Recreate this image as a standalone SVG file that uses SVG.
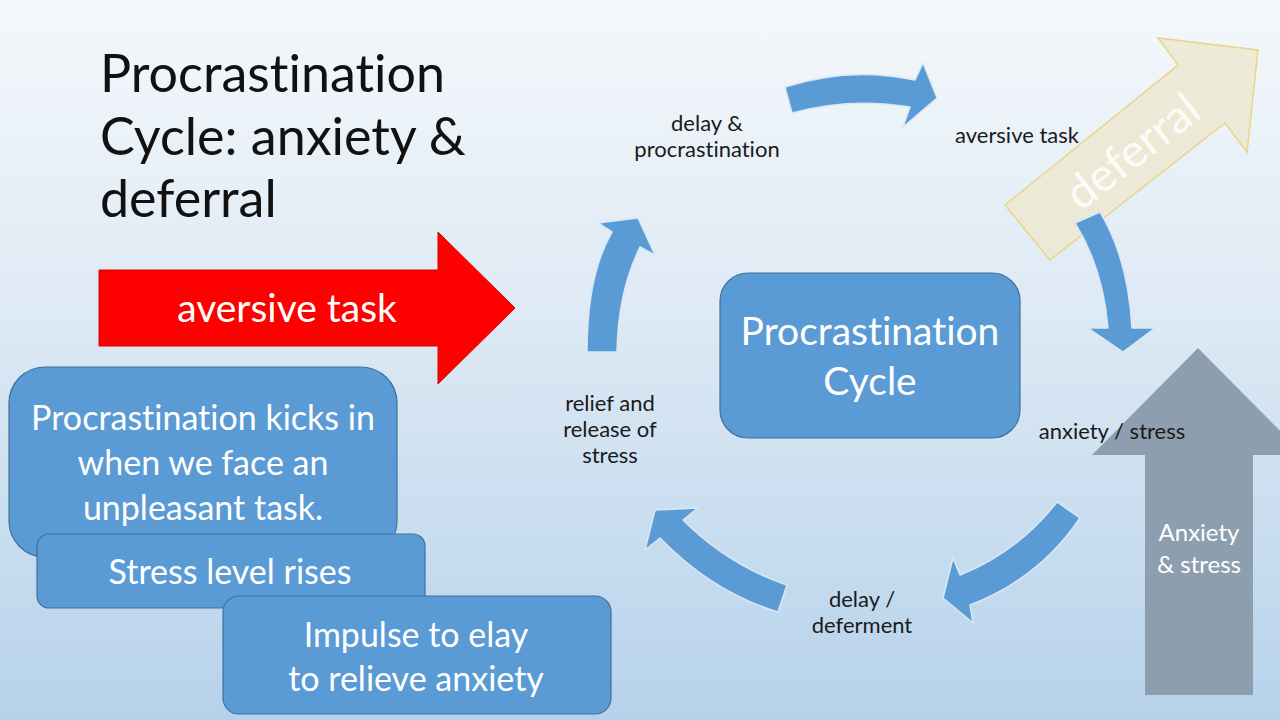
<svg xmlns="http://www.w3.org/2000/svg" width="1280" height="720" viewBox="0 0 1280 720">
  <defs>
    <linearGradient id="bg" x1="0" y1="0" x2="0" y2="1">
      <stop offset="0" stop-color="#f4f8fb"/>
      <stop offset="0.45" stop-color="#dde9f4"/>
      <stop offset="1" stop-color="#b6d2eb"/>
    </linearGradient>
    <style>
      text { font-variant-ligatures: none; }
      .title { font-family: Lato, "Liberation Sans", sans-serif; font-size: 52px; fill: #111; }
      .lbl { font-family: Lato, "Liberation Sans", sans-serif; font-size: 22px; fill: #1a1a1a; text-anchor: middle; }
      .wt { font-family: Lato, "Liberation Sans", sans-serif; fill: #ffffff; text-anchor: middle; }
      .box { fill: #5b9bd5; stroke: #41719c; stroke-width: 1.2; }
      .cyc { fill: #5b9bd5; stroke: #d8e8f5; stroke-width: 1.5; stroke-linejoin: round; }
    </style>
  </defs>

  <rect x="0" y="0" width="1280" height="720" fill="url(#bg)"/>

  <g id="title">
    <text class="title" x="100" y="92">Procrastination</text>
    <text class="title" x="100" y="155">Cycle: anxiety &amp;</text>
    <text class="title" x="100" y="217">deferral</text>
  </g>

  <g id="deferral-arrow">
    <polygon points="1005,205 1178,65 1158,38 1258,50 1247,152 1225,123 1050,260" fill="#ece9d3" fill-opacity="0.9" stroke="#e8d586" stroke-width="1.5"/>
    <text class="wt" x="1133" y="167" font-size="46" fill-opacity="0.85" transform="rotate(-38 1133 152)">deferral</text>
  </g>

  <g id="anxiety-arrow">
    <polygon points="1145,695 1145,455 1092,455 1198,348 1304,455 1253,455 1253,695" fill="#8d9fae"/>
    <text class="wt" x="1199" y="541" font-size="24">Anxiety</text>
    <text class="wt" x="1199" y="573" font-size="24">&amp; stress</text>
  </g>

  <g id="aversive-arrow">
    <polygon points="99,270 438,270 438,232 515,308 438,384 438,346 99,346" fill="#ff0000" stroke="#e00000" stroke-width="1"/>
    <text class="wt" x="287" y="322" font-size="39">aversive task</text>
  </g>

  <g id="box-kicks">
    <rect class="box" x="9" y="367" width="388" height="190" rx="36"/>
    <text class="wt" x="203" y="430" font-size="34">Procrastination kicks in</text>
    <text class="wt" x="203" y="475" font-size="34">when we face an</text>
    <text class="wt" x="203" y="520" font-size="34">unpleasant task.</text>
  </g>

  <g id="box-stress">
    <rect class="box" x="37" y="534" width="388" height="74" rx="12"/>
    <text class="wt" x="230" y="584" font-size="34">Stress level rises</text>
  </g>

  <g id="box-impulse">
    <rect class="box" x="223" y="596" width="388" height="118" rx="16"/>
    <text class="wt" x="416" y="647" font-size="34">Impulse to elay</text>
    <text class="wt" x="416" y="691" font-size="34">to relieve anxiety</text>
  </g>

  <g id="center-box">
    <rect class="box" x="720" y="273" width="300" height="165" rx="28"/>
    <text class="wt" x="870" y="345" font-size="39">Procrastination</text>
    <text class="wt" x="870" y="395" font-size="39">Cycle</text>
  </g>

  <g id="connectors">
    <path class="cyc" d="M785,87 Q850,66 915,80 L923,63 L937,98 L903,127 L910,107 Q850,97 792,113 Z"/>
    <path class="cyc" d="M1075,223 L1100,212 Q1128,258 1132,328 L1155,328 L1123,352 L1088,328 L1108,328 Q1103,268 1075,223 Z"/>
    <path class="cyc" d="M1057,502 L1080,518 Q1040,578 970,605 L973,623 L943,598 L953,558 L960,575 Q1018,552 1057,502 Z"/>
    <path class="cyc" d="M787,585 Q728,565 683,520 L698,508 L655,510 L645,550 L660,538 Q712,592 778,612 Z"/>
    <path class="cyc" d="M587,352 Q587,275 612,232 L598,223 L638,218 L655,255 L640,247 Q618,292 617,352 Z"/>
  </g>

  <g id="labels">
    <text class="lbl" x="707" y="131">delay &amp;</text>
    <text class="lbl" x="707" y="157">procrastination</text>
    <text class="lbl" x="1017" y="143">aversive task</text>
    <text class="lbl" x="610" y="411">relief and</text>
    <text class="lbl" x="610" y="437">release of</text>
    <text class="lbl" x="610" y="463">stress</text>
    <text class="lbl" x="1112" y="439">anxiety / stress</text>
    <text class="lbl" x="862" y="607">delay /</text>
    <text class="lbl" x="862" y="633">deferment</text>
  </g>
</svg>
